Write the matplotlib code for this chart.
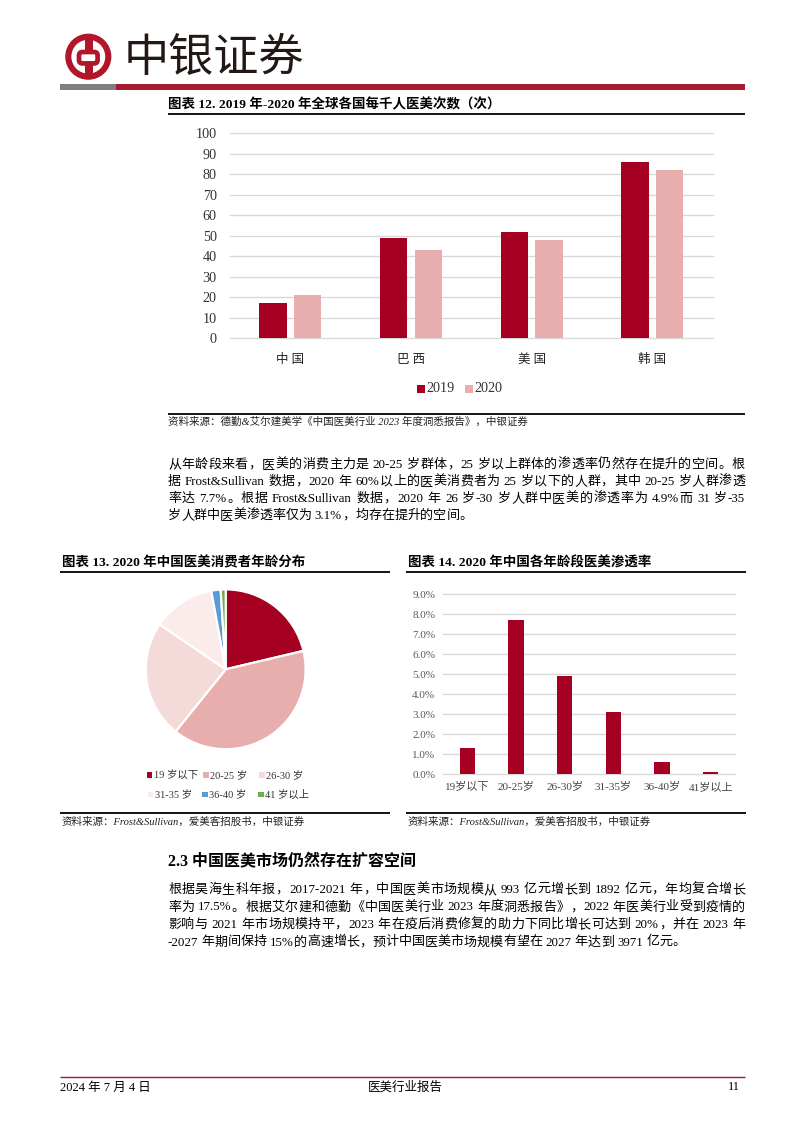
import re
import matplotlib
matplotlib.use('Agg')
import matplotlib.pyplot as plt
from matplotlib.patches import Circle, FancyBboxPatch, Rectangle
import numpy as np

W, H = 794, 1123
FONT = ['Liberation Serif', 'Noto Sans CJK SC']
CJK = ['Noto Sans CJK SC', 'DejaVu Sans']
DARK = '#A50021'
PINK = '#E8AEAE'
GRID = '#D9D9D9'
LOGO_RED = '#B0172B'

# ---------------- data ----------------
c12_categories = ['中 国', '巴 西', '美 国', '韩 国']
c12_series = ['2019', '2020']
c12_2019 = [17, 49, 52, 86]
c12_2020 = [21, 43, 48, 82]
c12_yticks = [0, 10, 20, 30, 40, 50, 60, 70, 80, 90, 100]

c13_labels = ['19 岁以下', '20-25 岁', '26-30 岁', '31-35 岁', '36-40 岁', '41 岁以上']
c13_share = [21.3, 39.5, 23.7, 12.6, 1.9, 1.0]
c13_colors = [DARK, PINK, '#F5DADA', '#FBEBEB', '#5B9BD5', '#70AD47']

c14_categories = ['19岁以下', '20-25岁', '26-30岁', '31-35岁', '36-40岁', '41岁以上']
c14_rate = [1.3, 7.7, 4.9, 3.1, 0.6, 0.1]
c14_yticks = [0, 1, 2, 3, 4, 5, 6, 7, 8, 9]

para1 = [
    "从年龄段来看，医美的消费主力是 20-25 岁群体，25 岁以上群体的渗透率仍然存在提升的空间。根",
    "据 Frost&Sullivan 数据，2020 年 60%以上的医美消费者为 25 岁以下的人群，其中 20-25 岁人群渗透",
    "率达 7.7%。根据 Frost&Sullivan 数据，2020 年 26 岁-30 岁人群中医美的渗透率为 4.9%而 31 岁-35",
    "岁人群中医美渗透率仅为 3.1%，均存在提升的空间。",
]
para2 = [
    "根据昊海生科年报，2017-2021 年，中国医美市场规模从 993 亿元增长到 1892 亿元，年均复合增长",
    "率为 17.5%。根据艾尔建和德勤《中国医美行业 2023 年度洞悉报告》，2022 年医美行业受到疫情的",
    "影响与 2021 年市场规模持平，2023 年在疫后消费修复的助力下同比增长可达到 20%，并在 2023 年",
    "-2027 年期间保持 15%的高速增长，预计中国医美市场规模有望在 2027 年达到 3971 亿元。",
]

# ---------------- figure ----------------
fig = plt.figure(figsize=(W / 100, H / 100), dpi=100)
bg = fig.add_axes([0, 0, 1, 1], zorder=-5)
bg.set_xlim(0, W)
bg.set_ylim(H, 0)
bg.axis('off')
renderer = fig.canvas.get_renderer()


def px_axes(x0, y0, x1, y1):
    return fig.add_axes([x0 / W, 1 - y1 / H, (x1 - x0) / W, (y1 - y0) / H])


def hline(y, x0, x1, color='black', lw=1.0):
    bg.plot([x0, x1], [y, y], color=color, lw=lw, solid_capstyle='butt')


def txt(x, y, s, size, **kw):
    kw.setdefault('family', FONT)
    kw.setdefault('va', 'center')
    return bg.text(x, y, s, fontsize=size, **kw)


TOK = re.compile(r'[A-Za-z0-9&.%\-]+| |[^A-Za-z0-9&.%\- ]')


def draw_line(s, x0, x1, yc, size, justify=True, **kw):
    toks = TOK.findall(s)
    em = size * 100 / 72
    base = yc + em * 0.36
    arts, widths, offs = [], [], []
    for tk in toks:
        if tk == ' ':
            arts.append(None)
            widths.append(em * 0.25)
            offs.append(0.0)
            continue
        t = bg.text(0, base, tk, fontsize=size, family=FONT, va='baseline', ha='left', **kw)
        if len(tk) == 1 and ord(tk) > 0x2000:
            # full-width CJK character: advance = 1 em, centre the glyph in its cell
            t.set_ha('center')
            widths.append(em)
            offs.append(em / 2)
        else:
            widths.append(t.get_window_extent(renderer).width)
            offs.append(0.0)
        arts.append(t)
    n = len(toks) - 1
    gap = (x1 - x0 - sum(widths)) / n if (justify and n > 0) else 0.0
    x = x0
    for a, w, o in zip(arts, widths, offs):
        if a is not None:
            a.set_x(x + o)
        x += w + gap


# ---------------- header ----------------
bg.add_patch(Circle((88.3, 56.7), 20.0, fill=False, ec=LOGO_RED, lw=4.4))
bg.add_patch(Rectangle((85.0, 38), 7.5, 12, color=LOGO_RED, lw=0))
bg.add_patch(Rectangle((85.0, 64), 7.5, 12, color=LOGO_RED, lw=0))
bg.add_patch(FancyBboxPatch((79.0, 52.0), 18.6, 11.4, boxstyle='round,pad=0,rounding_size=3.5',
                            fc='white', ec=LOGO_RED, lw=3.4))
txt(124, 58, '中银证券', 32.5, family=CJK, color='#231815', ha='left', weight='light')
bg.add_patch(Rectangle((60, 84.3), 56, 5.6, color='#7F7F7F', lw=0))
bg.add_patch(Rectangle((116, 84.3), 629, 5.6, color='#A6192E', lw=0))

# ---------------- chart 12 ----------------
txt(168, 104.5, '图表 12. 2019 年-2020 年全球各国每千人医美次数（次）', 9.7, weight='bold', ha='left')
hline(114.3, 168, 745, lw=1.3)

ax = px_axes(230, 133.3, 712.7, 338.3)
x = np.arange(len(c12_categories))
ax.bar(x - 0.143, c12_2019, width=0.227, color=DARK, zorder=3, label=c12_series[0])
ax.bar(x + 0.143, c12_2020, width=0.227, color=PINK, zorder=3, label=c12_series[1])
for t in c12_yticks:
    ax.axhline(t, color=GRID, lw=1.0, zorder=0, clip_on=False)
ax.set_xlim(-0.5, len(c12_categories) - 0.5)
ax.set_ylim(0, 100)
ax.set_yticks(c12_yticks)
ax.set_yticklabels([str(v) for v in c12_yticks], family=FONT, fontsize=10.2, color='#333333')
ax.set_xticks(x)
ax.set_xticklabels(c12_categories, family=FONT, fontsize=9, color='#222222')
ax.tick_params(axis='y', length=0, pad=9.5)
ax.tick_params(axis='x', length=0, pad=11)
for s in ax.spines.values():
    s.set_visible(False)
ax.patch.set_alpha(0)

# legend (manual)
bg.add_patch(Rectangle((416.8, 384.8), 8, 8, color=DARK, lw=0))
txt(426.5, 388.5, c12_series[0], 10.2, color='#333333', ha='left')
bg.add_patch(Rectangle((465.0, 384.8), 8, 8, color=PINK, lw=0))
txt(474.8, 388.5, c12_series[1], 10.2, color='#333333', ha='left')

hline(413.5, 168, 745, lw=1.3)
txt(168, 421.5, '资料来源：德勤&艾尔建美学《中国医美行业 2023 年度洞悉报告》，中银证券', 7.6,
    style='italic', ha='left', color='#222222')

# ---------------- paragraph 1 ----------------
for i, line in enumerate(para1):
    draw_line(line, 168, 745, 463 + i * 17.0, 9.4, justify=(i < len(para1) - 1))

# ---------------- chart 13 (pie) ----------------
txt(62.5, 562.5, '图表 13. 2020 年中国医美消费者年龄分布', 9.7, weight='bold', ha='left')
hline(572.3, 60, 390, lw=1.3)

cx, cy, r = 225.7, 669.3, 81.5
axp = px_axes(cx - r, cy - r, cx + r, cy + r)
axp.pie(c13_share, colors=c13_colors, startangle=90, counterclock=False, radius=1.0,
        wedgeprops=dict(edgecolor='white', linewidth=1.6))
axp.set_xlim(-1.02, 1.02)
axp.set_ylim(-1.02, 1.02)
axp.axis('off')

leg_pos = [(146.7, 775), (203.3, 775), (259.3, 775), (147.7, 794.3), (202.3, 794.3), (258.3, 794.3)]
for (lx, ly), lab, col in zip(leg_pos, c13_labels, c13_colors):
    bg.add_patch(Rectangle((lx, ly - 2.7), 5.4, 5.4, color=col, lw=0))
    txt(lx + 7.0, ly, lab, 7.5, ha='left', color='#333333')

hline(813.3, 60, 390, lw=1.3)
txt(62, 821.7, '资料来源：Frost&Sullivan，爱美客招股书，中银证券', 7.6, style='italic', ha='left',
    color='#222222')

# ---------------- chart 14 ----------------
txt(408, 562.5, '图表 14. 2020 年中国各年龄段医美渗透率', 9.7, weight='bold', ha='left')
hline(572.3, 406, 746, lw=1.3)

ax2 = px_axes(443, 594, 735, 774)
x2 = np.arange(len(c14_categories))
ax2.bar(x2, c14_rate, width=0.32, color=DARK, zorder=3)
for t in c14_yticks:
    ax2.axhline(t, color=GRID, lw=1.0, zorder=0, clip_on=False)
ax2.set_xlim(-0.5, len(c14_categories) - 0.5)
ax2.set_ylim(0, 9)
ax2.set_yticks(c14_yticks)
ax2.set_yticklabels([f'{v:.1f}%' for v in c14_yticks], family=FONT, fontsize=8, color='#595959')
ax2.set_xticks(x2)
ax2.set_xticklabels(c14_categories, family=FONT, fontsize=8, color='#444444')
ax2.tick_params(axis='y', length=0, pad=5.5)
ax2.tick_params(axis='x', length=0, pad=5.5)
for s in ax2.spines.values():
    s.set_visible(False)
ax2.patch.set_alpha(0)

hline(813.3, 406, 746, lw=1.3)
txt(408, 821.7, '资料来源：Frost&Sullivan，爱美客招股书，中银证券', 7.6, style='italic', ha='left',
    color='#222222')

# ---------------- section 2.3 ----------------
txt(168, 862, '2.3 中国医美市场仍然存在扩容空间', 11.5, weight='bold', ha='left')
for i, line in enumerate(para2):
    draw_line(line, 168, 745, 888.3 + i * 17.5, 9.4, justify=(i < len(para2) - 1))

# ---------------- footer ----------------
hline(1076.5, 60, 745, color='#A6192E', lw=1.0)
txt(60, 1087.5, '2024 年 7 月 4 日', 9, ha='left')
txt(405, 1087.5, '医美行业报告', 9, ha='center')
txt(740, 1087.5, '11', 9, ha='right')

fig.savefig('out.png', dpi=100)
